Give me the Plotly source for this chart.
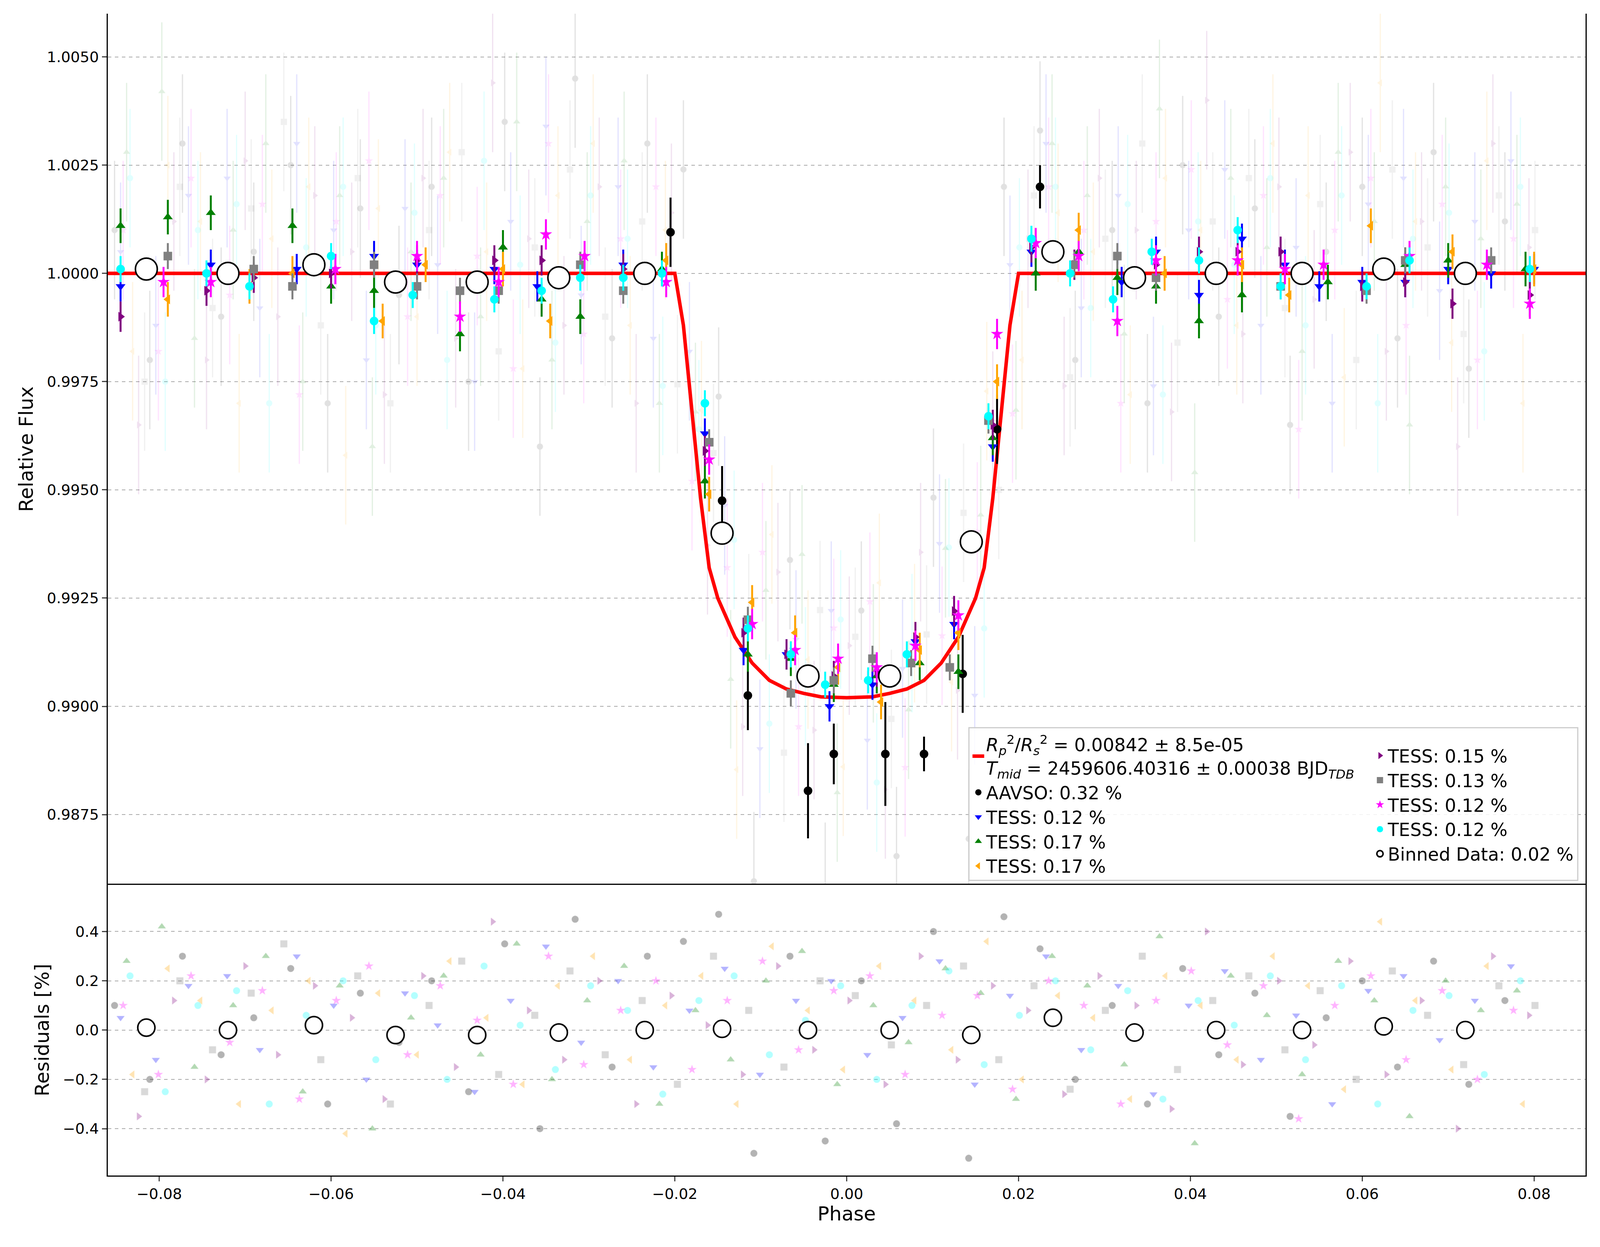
import numpy as np
import plotly.graph_objects as go

model_phase = [-0.086,-0.020,-0.019,-0.018,-0.017,-0.016,-0.015,-0.013,-0.011,-0.009,-0.007,-0.005,-0.003,0.0,0.003,0.005,0.007,0.009,0.011,0.013,0.015,0.016,0.017,0.018,0.019,0.020,0.086]
model_flux = [1,1,0.9988,0.9968,0.9948,0.9932,0.9925,0.9916,0.9910,0.9906,0.9904,0.9903,0.99022,0.9902,0.99022,0.9903,0.9904,0.9906,0.9910,0.9916,0.9925,0.9932,0.9948,0.9968,0.9988,1,1]

bin_phase = [-0.0815,-0.072,-0.062,-0.0525,-0.043,-0.0335,-0.0235,-0.0145,-0.0045,0.005,0.0145,0.024,0.0335,0.043,0.053,0.0625,0.072]
bin_flux = [1.0001,1.0000,1.0002,0.9998,0.9998,0.9999,1.0000,0.9940,0.9907,0.9907,0.9938,1.0005,0.9999,1.0000,1.0000,1.0001,1.0000]
bin_res = [0.01,0.0,0.02,-0.02,-0.02,-0.01,0.0,0.005,0.0,0.0,-0.02,0.05,-0.01,0.0,0.0,0.015,0.0]

aavso_phase = [-0.0205,-0.0145,-0.0115,-0.0045,-0.0015,0.0045,0.009,0.0135,0.0175,0.0225]
aavso_flux = [1.00095,0.99475,0.99025,0.98805,0.9889,0.9889,0.9889,0.99075,0.9964,1.0020]
aavso_err = [0.0008,0.0008,0.0008,0.0011,0.0007,0.0012,0.0004,0.0009,0.0008,0.0005]

blue_phase = [-0.0845,-0.074,-0.064,-0.055,-0.050,-0.041,-0.036,-0.026,-0.0165,-0.012,-0.007,-0.002,0.003,0.008,0.0125,0.017,0.0215,0.032,0.036,0.041,0.046,0.051,0.055,0.060,0.065,0.070,0.075,0.080]
blue_flux = [0.9997,1.0002,1.0001,1.0004,1.0002,1.0001,0.9997,1.0002,0.9963,0.9913,0.9912,0.9900,0.9905,0.9915,0.9919,0.9960,1.0005,0.9998,1.0005,0.9995,1.0008,1.0002,0.9997,0.9998,0.9998,1.0001,1.0000,1.0001]
green_phase = [-0.0845,-0.079,-0.074,-0.0645,-0.060,-0.055,-0.045,-0.040,-0.0355,-0.031,-0.0215,-0.0165,-0.0115,-0.0065,-0.0015,0.0035,0.0085,0.013,0.017,0.022,0.027,0.0315,0.036,0.041,0.046,0.056,0.065,0.070,0.079]
green_flux = [1.0011,1.0013,1.0014,1.0011,0.9997,0.9996,0.9986,1.0006,0.9994,0.9990,1.0001,0.9952,0.9912,0.9911,0.9905,0.9907,0.9910,0.9908,0.9962,1.0000,1.0005,0.9999,0.9997,0.9989,0.9995,0.9998,1.0002,1.0003,1.0001]
orange_phase = [-0.079,-0.0695,-0.0645,-0.054,-0.049,-0.040,-0.0345,-0.021,-0.016,-0.011,-0.006,-0.001,0.004,0.0085,0.013,0.0175,0.027,0.037,0.046,0.0515,0.061,0.0705,0.080]
orange_flux = [0.9994,0.9997,1.0000,0.9989,1.0002,1.0001,0.9989,1.0003,0.9949,0.9924,0.9917,0.9909,0.9901,0.9913,0.9917,0.9975,1.0010,1.0000,1.0002,0.9995,1.0011,1.0005,1.0001]
purple_phase = [-0.0845,-0.0745,-0.069,-0.060,-0.050,-0.041,-0.0355,-0.026,-0.0165,-0.012,-0.007,-0.0015,0.0035,0.008,0.0125,0.017,0.0215,0.0265,0.036,0.041,0.0455,0.0505,0.060,0.065,0.0705,0.0795]
purple_flux = [0.9990,0.9996,0.9999,1.0000,1.0003,1.0003,1.0003,1.0001,0.9959,0.9917,0.9912,0.9907,0.9908,0.9916,0.9922,0.9965,1.0006,1.0002,1.0002,1.0005,1.0005,1.0005,0.9997,0.9998,0.9993,0.9995]
gray_phase = [-0.079,-0.069,-0.0645,-0.055,-0.050,-0.045,-0.0405,-0.031,-0.026,-0.016,-0.0115,-0.0065,-0.0015,0.003,0.0075,0.012,0.0165,0.0265,0.0315,0.036,0.0505,0.0605,0.065,0.075]
gray_flux = [1.0004,1.0001,0.9997,1.0002,0.9997,0.9996,0.9996,1.0002,0.9996,0.9961,0.9920,0.9903,0.9906,0.9911,0.9910,0.9909,0.9966,1.0002,1.0004,0.9999,0.9997,0.9996,1.0003,1.0003]
magenta_phase = [-0.0795,-0.074,-0.0595,-0.050,-0.045,-0.0405,-0.035,-0.0305,-0.021,-0.016,-0.011,-0.006,-0.001,0.0035,0.008,0.013,0.0175,0.022,0.027,0.0315,0.036,0.0455,0.051,0.0555,0.0655,0.0745,0.0795]
magenta_flux = [0.9998,0.9998,1.0001,1.0004,0.9990,0.9998,1.0009,1.0004,0.9998,0.9957,0.9919,0.9913,0.9911,0.9909,0.9914,0.9921,0.9986,1.0007,1.0004,0.9989,1.0003,1.0003,1.0001,1.0002,1.0004,1.0002,0.9993]
cyan_phase = [-0.0845,-0.0745,-0.0695,-0.060,-0.055,-0.0505,-0.041,-0.0355,-0.031,-0.026,-0.0215,-0.0165,-0.0115,-0.0065,-0.0025,0.0025,0.007,0.0165,0.0215,0.026,0.031,0.0355,0.041,0.0455,0.0505,0.0605,0.0655,0.0795]
cyan_flux = [1.0001,1.0000,0.9997,1.0004,0.9989,0.9995,0.9994,0.9996,0.9999,0.9999,1.0000,0.9970,0.9918,0.9912,0.9905,0.9906,0.9912,0.9967,1.0008,1.0000,0.9994,1.0005,1.0003,1.0010,0.9997,0.9997,1.0003,1.0001]

faint_phase = [-0.0852,-0.0811,-0.0773,-0.0728,-0.0690,-0.0647,-0.0604,-0.0566,-0.0521,-0.0483,-0.0440,-0.0398,-0.0357,-0.0316,-0.0273,-0.0232,-0.0190,-0.0149,-0.0108,-0.0066,-0.0025,0.0017,0.0058,0.0101,0.0142,0.0183,0.0225,0.0266,0.0309,0.0350,0.0391,0.0433,0.0475,0.0516,0.0558,0.0600,0.0641,0.0683,0.0724,0.0766]
faint_res = {
 "aavso": [0.10,-0.20,0.30,-0.10,0.05,0.25,-0.30,0.15,-0.05,0.20,-0.25,0.35,-0.40,0.45,-0.15,0.30,0.36,0.47,-0.50,0.30,-0.45,0.20,-0.38,0.40,-0.52,0.46,0.33,-0.20,0.10,-0.30,0.25,-0.10,0.15,-0.35,0.05,0.20,-0.15,0.28,-0.22,0.12],
 "blue": [0.05,-0.12,0.18,0.22,-0.08,0.30,0.10,-0.20,0.15,0.02,-0.25,0.12,0.34,-0.05,0.20,-0.15,0.08,0.25,-0.18,0.12,0.20,-0.10,0.05,0.28,-0.22,0.14,0.30,-0.08,0.18,-0.26,0.10,0.24,-0.12,0.06,-0.30,0.16,0.22,-0.04,0.12,0.26],
 "green": [0.28,0.42,-0.15,0.10,0.30,-0.25,0.18,-0.40,0.05,0.22,-0.10,0.35,-0.20,0.12,0.26,-0.30,0.08,-0.12,0.20,0.32,-0.22,0.10,-0.05,0.25,0.15,-0.28,0.30,0.18,-0.14,0.38,-0.46,0.22,0.06,-0.18,0.28,0.12,-0.35,0.20,0.08,0.16],
 "orange": [-0.18,0.25,0.12,-0.30,0.08,0.20,-0.42,0.15,-0.10,0.28,0.05,-0.22,0.18,0.30,-0.12,0.10,0.22,-0.30,0.34,0.08,-0.16,0.26,0.12,-0.08,0.36,-0.20,0.14,0.05,-0.28,0.22,0.10,-0.12,0.30,0.18,-0.24,0.44,0.12,-0.16,0.26,-0.30],
 "purple": [-0.35,0.12,-0.20,0.26,-0.10,0.18,0.05,-0.28,0.22,-0.15,0.44,0.08,-0.12,0.20,-0.30,0.14,0.02,-0.18,0.26,-0.08,0.12,-0.22,0.30,-0.12,0.18,0.08,-0.26,0.22,0.10,-0.32,0.40,-0.14,0.20,-0.06,0.28,-0.18,0.12,-0.40,0.30,0.06],
 "gray": [-0.25,0.20,-0.08,0.15,0.35,-0.12,0.22,-0.30,0.10,0.28,-0.18,0.06,0.24,-0.10,0.12,-0.22,0.30,0.08,-0.15,0.20,0.14,-0.06,0.10,0.26,-0.12,0.18,-0.24,0.08,0.30,-0.16,0.12,0.22,-0.08,0.16,-0.20,0.24,0.06,-0.14,0.18,0.10],
 "magenta": [0.10,-0.18,0.22,-0.05,0.16,-0.28,0.12,0.26,-0.10,0.18,0.04,-0.22,0.30,-0.14,0.08,0.20,-0.16,0.12,0.28,-0.08,0.16,0.22,-0.18,0.06,0.14,-0.24,0.20,0.10,-0.30,0.12,0.24,-0.06,0.18,-0.36,0.10,0.22,-0.12,0.16,-0.20,0.08],
 "cyan": [0.22,-0.25,0.10,0.16,-0.30,0.06,0.20,-0.12,0.14,-0.20,0.26,0.02,-0.16,0.18,0.08,-0.26,0.12,0.22,-0.10,0.04,0.18,-0.20,0.10,0.24,-0.14,0.06,0.20,-0.08,0.16,-0.28,0.12,0.02,0.22,-0.12,0.18,-0.30,0.08,0.14,-0.18,0.20],
}
faint_offset = {"aavso":0.0,"blue":0.0007,"green":0.0014,"orange":0.0021,"purple":0.0028,"gray":0.0035,"magenta":0.0010,"cyan":0.0018}

series = [
 ("aavso","black","circle","AAVSO: 0.32 %",aavso_phase,aavso_flux,aavso_err),
 ("blue","blue","triangle-down","TESS: 0.12 %",blue_phase,blue_flux,None),
 ("green","green","triangle-up","TESS: 0.17 %",green_phase,green_flux,None),
 ("orange","orange","triangle-left","TESS: 0.17 %",orange_phase,orange_flux,None),
 ("purple","purple","triangle-right","TESS: 0.15 %",purple_phase,purple_flux,None),
 ("gray","gray","square","TESS: 0.13 %",gray_phase,gray_flux,None),
 ("magenta","magenta","star","TESS: 0.12 %",magenta_phase,magenta_flux,None),
 ("cyan","cyan","circle","TESS: 0.12 %",cyan_phase,cyan_flux,None),
]
errs = {"blue":0.00035,"green":0.0004,"orange":0.0004,"purple":0.00035,"gray":0.0003,"magenta":0.00035,"cyan":0.0003}
left_col = ["aavso","blue","green","orange"]
right_col = ["purple","gray","magenta","cyan"]

fig = go.Figure()
W, H = 4268, 3192
xd = [280/W, 4238/W]
main_dom = [(H-2268)/H, (H-27)/H]
res_dom = [(H-3016)/H, (H-2268)/H]

for key, col, sym, name, ph, fl, er in series:
    fp = np.array(faint_phase) + faint_offset[key]
    fr = np.array(faint_res[key])
    fm = np.interp(fp, model_phase, model_flux) + fr/100
    fig.add_trace(go.Scatter(x=fp, y=fm, mode="markers", showlegend=False, opacity=0.12,
        marker=dict(color=col, symbol=sym, size=16),
        error_y=dict(type="constant", value=0.0016, color=col, thickness=3, width=0),
        xaxis="x", yaxis="y"))
    fig.add_trace(go.Scatter(x=fp, y=fr, mode="markers", showlegend=False, opacity=0.3,
        marker=dict(color=col, symbol=sym, size=18), xaxis="x", yaxis="y2"))

fig.add_trace(go.Scatter(x=model_phase, y=model_flux, mode="lines", line=dict(color="red", width=9),
    name="<i>R</i><sub><i>p</i></sub><sup>2</sup>/<i>R</i><sub><i>s</i></sub><sup>2</sup> = 0.00842 ± 8.5e-05<br><i>T</i><sub><i>mid</i></sub> = 2459606.40316 ± 0.00038 BJD<sub><i>TDB</i></sub>",
    xaxis="x", yaxis="y", legend="legend"))

sd = {s[0]: s for s in series}
for key in left_col + right_col:
    k, col, sym, name, ph, fl, er = sd[key]
    e = er if er is not None else [errs[key]]*len(ph)
    fig.add_trace(go.Scatter(x=ph, y=fl, mode="markers", name=name,
        marker=dict(color=col, symbol=sym, size=22 if sym != "star" else 24, line=dict(width=0)),
        error_y=dict(type="data", array=e, color=col, thickness=5, width=0),
        xaxis="x", yaxis="y", legend="legend" if key in left_col else "legend2"))

fig.add_trace(go.Scatter(x=bin_phase, y=bin_flux, mode="markers", name="Binned Data: 0.02 %",
    marker=dict(color="white", size=56, line=dict(color="black", width=4)), xaxis="x", yaxis="y", legend="legend2"))
fig.add_trace(go.Scatter(x=bin_phase, y=bin_res, mode="markers", showlegend=False,
    marker=dict(color="white", size=44, line=dict(color="black", width=4)), xaxis="x", yaxis="y2"))

font = "DejaVu Sans"
axcommon = dict(showline=True, mirror=True, linecolor="black", linewidth=3, ticks="outside",
                ticklen=12, tickwidth=3, tickfont=dict(size=38, family=font, color="black"), zeroline=False)
legcommon = dict(bgcolor="rgba(0,0,0,0)", borderwidth=0, font=dict(size=46, family=font),
                 itemsizing="trace", tracegroupgap=0, yanchor="top", xanchor="left")
fig.update_layout(
    margin=dict(l=0, r=0, t=0, b=0), plot_bgcolor="white", paper_bgcolor="white",
    font=dict(family=font, color="black"),
    xaxis=dict(domain=xd, range=[-0.086, 0.086], anchor="y2", tickvals=[-0.08,-0.06,-0.04,-0.02,0,0.02,0.04,0.06,0.08],
               tickformat=".2f", showgrid=False, title=dict(text="Phase", font=dict(size=50, family=font), standoff=10), **axcommon),
    xaxis2=dict(domain=xd, range=[-0.086, 0.086], anchor="y", matches="x", showticklabels=False, showgrid=False,
                showline=True, mirror=True, linecolor="black", linewidth=3, ticks=""),
    yaxis=dict(domain=main_dom, range=[0.98588, 1.0060], anchor="x", tickvals=[0.9875,0.99,0.9925,0.995,0.9975,1.0,1.0025,1.005],
               tickformat=".4f", showgrid=True, gridcolor="#aaaaaa", griddash="dash", gridwidth=2,
               title=dict(text="Relative Flux", font=dict(size=50, family=font), standoff=20), **axcommon),
    yaxis2=dict(domain=res_dom, range=[-0.59, 0.59], anchor="x", tickvals=[-0.4,-0.2,0,0.2,0.4], tickformat=".1f",
                showgrid=True, gridcolor="#aaaaaa", griddash="dash", gridwidth=2,
                title=dict(text="Residuals [%]", font=dict(size=50, family=font), standoff=20), **axcommon),
    legend=dict(x=0.607, y=0.414, **legcommon),
    legend2=dict(x=0.859, y=0.405, **legcommon),
    shapes=[dict(type="rect", xref="paper", yref="paper", x0=0.606, x1=0.988, y0=0.293, y1=0.416,
                 line=dict(color="#cccccc", width=3), fillcolor="rgba(255,255,255,0.85)", layer="above")],
)
fig.write_html("out.html")
